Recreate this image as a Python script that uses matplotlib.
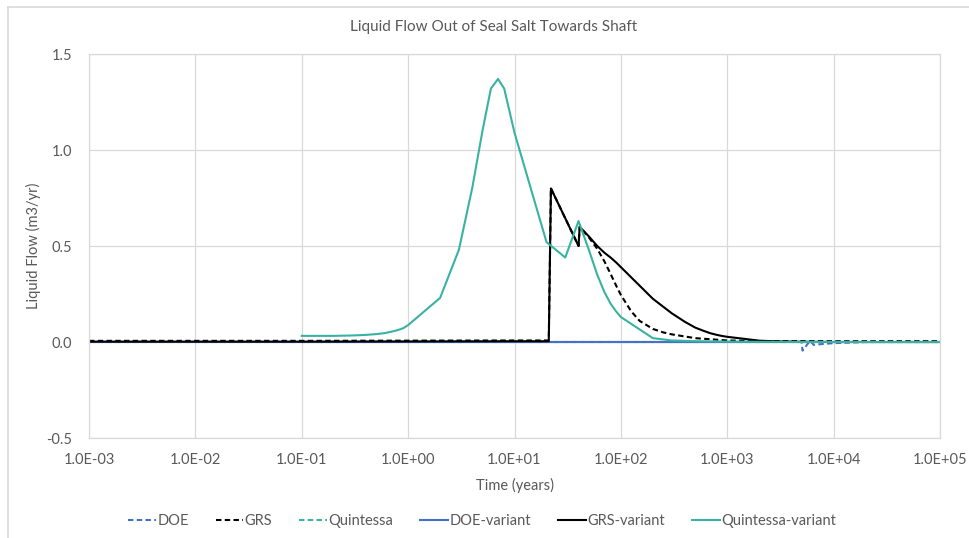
import matplotlib
matplotlib.use("Agg")
import matplotlib.pyplot as plt
from matplotlib.lines import Line2D
from matplotlib.ticker import FixedLocator, FuncFormatter

plt.rcParams['font.family'] = ['Lato', 'DejaVu Sans']

# ---- series data (time in years, liquid flow in m3/yr) ----
t_doe = [1e-3, 1e-2, 1e-1, 1, 10, 100, 1000, 5000, 5100, 6000, 6500, 8000, 1e4, 2e4, 1e5]
q_doe = [0.0, 0.0, 0.0, 0.0, 0.0, 0.0, 0.0, 0.0, -0.045, 0.006, -0.015, -0.010, -0.006, 0.0, 0.0]

t_grs = [1e-3, 1e-2, 1e-1, 1, 10, 21, 22, 40, 41, 50, 60, 70, 80, 90, 100,
         125, 150, 200, 250, 300, 500, 1000, 2000, 1e4, 1e5]
q_grs = [0.006, 0.006, 0.006, 0.007, 0.008, 0.008, 0.80, 0.50, 0.60, 0.545, 0.485, 0.42, 0.355, 0.295, 0.245,
         0.16, 0.11, 0.068, 0.050, 0.040, 0.020, 0.008, 0.005, 0.004, 0.004]

t_quin = [1e-1, 1, 10, 100, 1000, 1e4, 1e5]
q_quin = [0.0, 0.0, 0.0, 0.0, 0.0, 0.0, 0.0]

t_doe_var = [1e-3, 1e-2, 1e-1, 1, 10, 100, 1000, 1e4, 1e5]
q_doe_var = [0.0, 0.0, 0.0, 0.0, 0.0, 0.0, 0.0, 0.0, 0.0]

t_grs_var = [1e-3, 1e-2, 1e-1, 1, 10, 21, 22, 40, 41, 50, 60, 70, 80, 90, 100,
             200, 300, 400, 500, 600, 700, 800, 900, 1000, 2000, 3000, 5000, 1e4, 1e5]
q_grs_var = [0.002, 0.002, 0.002, 0.003, 0.004, 0.004, 0.80, 0.50, 0.60, 0.55, 0.50, 0.465, 0.44, 0.415, 0.39,
             0.225, 0.150, 0.105, 0.075, 0.058, 0.045, 0.037, 0.031, 0.027, 0.007, 0.003, 0.001, 0.0, 0.0]

t_quin_var = [0.1, 0.2, 0.3, 0.4, 0.5, 0.6, 0.7, 0.8, 0.9, 1, 2, 3, 4, 5, 6, 7, 8, 10, 20, 30, 40,
              50, 60, 70, 80, 90, 100, 200, 300, 500, 1000, 2000, 5000, 1e4, 1e5]
q_quin_var = [0.032, 0.032, 0.034, 0.037, 0.041, 0.046, 0.054, 0.062, 0.072, 0.088, 0.23, 0.48, 0.80,
              1.10, 1.32, 1.37, 1.32, 1.09, 0.52, 0.44, 0.63,
              0.48, 0.35, 0.26, 0.20, 0.16, 0.13, 0.02, 0.008, 0.004, 0.002, 0.001, 0.0, 0.0, 0.0]

x_ticks = [1e-3, 1e-2, 1e-1, 1e0, 1e1, 1e2, 1e3, 1e4, 1e5]
y_ticks = [-0.5, 0.0, 0.5, 1.0, 1.5]

title = "Liquid Flow Out of Seal Salt Towards Shaft"
x_label = "Time (years)"
y_label = "Liquid Flow (m3/yr)"

# ---- styling ----
BLUE = "#4472C4"
BLACK = "#000000"
TEAL = "#3AB2A2"
GRID = "#D9D9D9"
TEXT = "#595959"
DASH = (0, (2.6, 1.6))
LW = 1.5
FS = 10.5

W, H = 969, 538
fig = plt.figure(figsize=(W / 100, H / 100), dpi=100)
ax = fig.add_axes([89 / W, 1 - 438 / H, (940 - 89) / W, (438 - 54) / H])

ax.plot(t_doe, q_doe, color=BLUE, lw=LW, ls=DASH, label="DOE")
ax.plot(t_grs, q_grs, color=BLACK, lw=LW, ls=DASH, label="GRS")
ax.plot(t_quin, q_quin, color=TEAL, lw=LW, ls=DASH, label="Quintessa")
ax.plot(t_doe_var, q_doe_var, color=BLUE, lw=LW, label="DOE-variant")
ax.plot(t_grs_var, q_grs_var, color=BLACK, lw=LW, label="GRS-variant")
ax.plot(t_quin_var, q_quin_var, color=TEAL, lw=LW, label="Quintessa-variant")

ax.set_xscale("log")
ax.set_xlim(1e-3, 1e5)
ax.set_ylim(-0.5, 1.5)
ax.xaxis.set_major_locator(FixedLocator(x_ticks))
ax.xaxis.set_minor_locator(FixedLocator([]))
ax.yaxis.set_major_locator(FixedLocator(y_ticks))
ax.xaxis.set_major_formatter(FuncFormatter(lambda v, p: "%.1E" % v))
ax.yaxis.set_major_formatter(FuncFormatter(lambda v, p: "%.1f" % v))

ax.grid(True, color=GRID, lw=0.9)
ax.set_axisbelow(True)
for s in ax.spines.values():
    s.set_color(GRID)
    s.set_linewidth(0.9)
ax.tick_params(length=0, labelsize=FS, labelcolor=TEXT)
ax.tick_params(axis="y", pad=12)
ax.tick_params(axis="x", pad=11)

ax.set_xlabel(x_label, fontsize=FS, color=TEXT, labelpad=8)
ax.set_ylabel(y_label, fontsize=FS, color=TEXT, labelpad=4)
fig.text(494 / W, 1 - 27 / H, title, ha="center", va="center", fontsize=11, color=TEXT)

leg = fig.legend(loc="center", bbox_to_anchor=(482 / W, 1 - 521 / H), ncol=6, frameon=False,
                 fontsize=FS, handlelength=1.9, handletextpad=0.1, columnspacing=1.85)
for txt in leg.get_texts():
    txt.set_color(TEXT)

# outer chart border (top and left edges)
fig.add_artist(Line2D([7.5 / W, 1.0], [1 - 6.5 / H, 1 - 6.5 / H], color=GRID, lw=1.2,
                      transform=fig.transFigure))
fig.add_artist(Line2D([7.5 / W, 7.5 / W], [0.0, 1 - 6.5 / H], color=GRID, lw=1.2,
                      transform=fig.transFigure))

fig.savefig("out.png", dpi=100)
